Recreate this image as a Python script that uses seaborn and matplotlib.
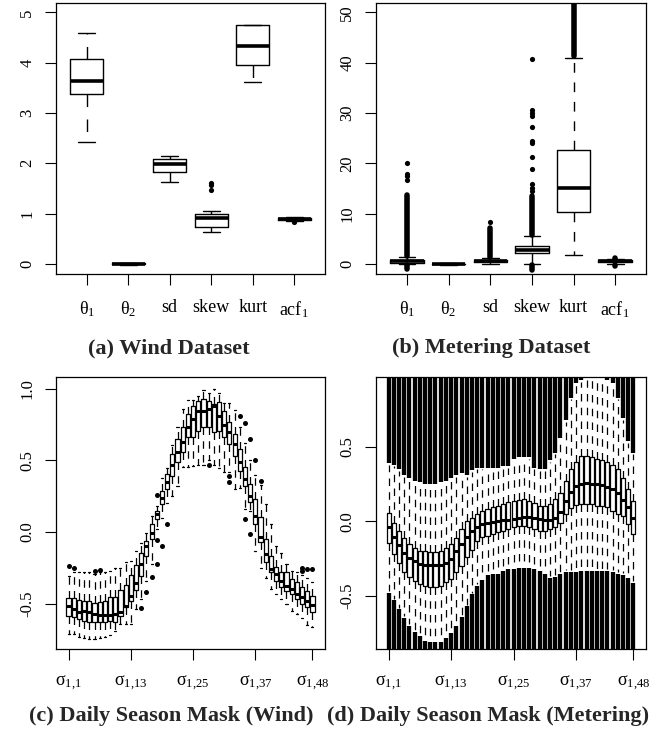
import matplotlib
matplotlib.use("Agg")
import matplotlib.pyplot as plt
import numpy as np
import pandas as pd
import seaborn as sns

# ---------------- data ----------------
feat_labels = ["θ$_1$", "θ$_2$", "sd", "skew", "kurt", "acf$_1$"]

# (a) Wind dataset: box statistics per feature
wind_q1  = [3.375, -0.010, 1.837, 0.736, 3.945, 0.880]
wind_med = [3.630,  0.000, 1.990, 0.908, 4.330, 0.900]
wind_q3  = [4.065,  0.010, 2.076, 1.000, 4.755, 0.915]
wind_lo  = [2.430, -0.020, 1.625, 0.630, 3.610, 0.860]
wind_hi  = [4.580,  0.020, 2.150, 1.048, 4.755, 0.925]
wind_fl_pos = [4, 4, 4, 6]
wind_fl_val = [1.46, 1.56, 1.60, 0.84]

# (b) Metering dataset
met_q1  = [0.20, -0.05, 0.35, 2.10, 10.4, 0.35]
met_med = [0.50,  0.00, 0.60, 2.80, 15.0, 0.55]
met_q3  = [0.85,  0.05, 0.85, 3.60, 22.6, 0.70]
met_lo  = [-0.05, -0.12, 0.00, 0.00, 1.7, 0.05]
met_hi  = [1.30,  0.12, 1.20, 5.60, 40.9, 0.95]
# dense runs of outliers (feature position, from, to)
met_run_pos  = [1, 1, 3, 4, 4, 5, 6, 6]
met_run_from = [1.5, -1.1, 1.3, 5.8, -1.3, 41.3, 1.0, -0.40]
met_run_to   = [13.7, -0.2, 7.1, 13.6, -0.2, 53.0, 1.1, -0.15]
met_fl_pos = [1, 1, 1, 1, 3, 4, 4, 4, 4, 4, 4, 4, 4, 4, 4, 4, 4]
met_fl_val = [16.6, 17.4, 17.9, 20.1, 8.3, 14.4, 15.0, 15.8, 18.8, 21.3,
              24.1, 24.4, 27.2, 29.5, 30.0, 30.5, 40.7]

# (c) Daily season mask, wind (48 half-hour slots)
sw_q1 = [-0.59, -0.595, -0.609, -0.619, -0.626, -0.63, -0.63, -0.626, -0.619, -0.63,
         -0.584, -0.526, -0.479, -0.405, -0.309, -0.165, -0.049, 0.091, 0.195, 0.30,
         0.393, 0.486, 0.556, 0.66, 0.66, 0.707, 0.73, 0.73, 0.695, 0.707,
         0.66, 0.614, 0.533, 0.428, 0.323, 0.207, 0.056, -0.072, -0.212, -0.281,
         -0.34, -0.386, -0.409, -0.433, -0.467, -0.502, -0.526, -0.56]
sw_med = [-0.52, -0.54, -0.56, -0.55, -0.556, -0.57, -0.577, -0.58, -0.577, -0.572,
          -0.56, -0.514, -0.444, -0.358, -0.223, -0.10, -0.01, 0.126, 0.235, 0.35,
          0.47, 0.556, 0.626, 0.73, 0.79, 0.846, 0.846, 0.858, 0.88, 0.81,
          0.75, 0.695, 0.614, 0.486, 0.37, 0.253, 0.114, -0.037, -0.153, -0.258,
          -0.293, -0.34, -0.374, -0.398, -0.43, -0.456, -0.484, -0.507]
sw_q3 = [-0.46, -0.463, -0.474, -0.479, -0.479, -0.495, -0.49, -0.479, -0.456, -0.456,
         -0.405, -0.367, -0.298, -0.228, -0.149, -0.06, 0.056, 0.149, 0.288, 0.405,
         0.544, 0.649, 0.73, 0.823, 0.881, 0.916, 0.928, 0.912, 0.893, 0.905,
         0.847, 0.765, 0.684, 0.579, 0.451, 0.335, 0.23, 0.102, -0.049, -0.165,
         -0.247, -0.281, -0.281, -0.328, -0.351, -0.386, -0.409, -0.444]
sw_lo = [-0.71, -0.71, -0.73, -0.74, -0.746, -0.75, -0.74, -0.73, -0.72, -0.69,
         -0.64, -0.64, -0.64, -0.54, -0.47, -0.34, -0.22, 0.02, 0.10, 0.20,
         0.25, 0.32, 0.456, 0.456, 0.46, 0.47, 0.47, 0.50, 0.47, 0.45,
         0.42, 0.42, 0.30, 0.31, 0.16, 0.15, -0.13, -0.25, -0.32, -0.40,
         -0.43, -0.47, -0.50, -0.55, -0.57, -0.60, -0.65, -0.665]
sw_hi = [-0.305, -0.28, -0.28, -0.28, -0.28, -0.29, -0.28, -0.28, -0.27, -0.25,
         -0.25, -0.21, -0.20, -0.13, -0.08, -0.01, 0.11, 0.18, 0.38, 0.45,
         0.61, 0.73, 0.86, 0.92, 0.92, 0.95, 0.99, 0.97, 1.00, 0.97,
         0.90, 0.90, 0.85, 0.73, 0.62, 0.50, 0.40, 0.33, 0.195, 0.056,
         -0.095, -0.15, -0.22, -0.27, -0.28, -0.30, -0.32, -0.35]
sw_fl_pos = [1, 2, 6, 7, 15, 16, 17, 18, 18, 18, 19, 20, 28, 32, 32,
             34, 35, 36, 37, 38, 35, 36, 46, 46, 47, 48]
sw_fl_val = [-0.237, -0.253, -0.274, -0.265, -0.53, -0.42, -0.316, 0.26, -0.056, -0.22,
             -0.095, 0.056, 0.467, 0.389, 0.352, 0.807, 0.759, 0.649, 0.505, 0.359,
             0.091, -0.014, -0.25, -0.275, -0.26, -0.26]

# (d) Daily season mask, metering
sm_q1 = [-0.146, -0.22, -0.28, -0.339, -0.377, -0.399, -0.422, -0.433, -0.44, -0.44,
         -0.433, -0.41, -0.388, -0.343, -0.298, -0.24, -0.19, -0.13, -0.108, -0.096,
         -0.085, -0.074, -0.063, -0.051, -0.04, -0.029, -0.029, -0.04, -0.051, -0.063,
         -0.063, -0.051, -0.04, -0.01, 0.05, 0.09, 0.11, 0.117, 0.117, 0.117,
         0.105, 0.105, 0.094, 0.072, 0.05, 0.038, -0.02, -0.085]
sm_med = [-0.04, -0.105, -0.16, -0.21, -0.245, -0.268, -0.284, -0.292, -0.297, -0.297,
          -0.293, -0.278, -0.252, -0.203, -0.15, -0.105, -0.065, -0.037, -0.02, -0.009,
          -0.002, 0.002, 0.006, 0.011, 0.017, 0.024, 0.03, 0.03, 0.024, 0.013,
          0.01, 0.01, 0.025, 0.065, 0.14, 0.20, 0.235, 0.253, 0.258, 0.252,
          0.248, 0.242, 0.234, 0.218, 0.19, 0.145, 0.095, 0.022]
sm_q3 = [0.054, -0.011, -0.063, -0.112, -0.152, -0.179, -0.197, -0.202, -0.209, -0.209,
         -0.197, -0.179, -0.152, -0.112, -0.052, 0.0, 0.02, 0.049, 0.072, 0.083,
         0.094, 0.105, 0.117, 0.128, 0.139, 0.143, 0.15, 0.139, 0.121, 0.105,
         0.105, 0.117, 0.15, 0.19, 0.27, 0.35, 0.40, 0.44, 0.44, 0.43,
         0.42, 0.41, 0.40, 0.38, 0.35, 0.29, 0.22, 0.14]
sm_lo = [-0.47, -0.52, -0.58, -0.64, -0.69, -0.73, -0.76, -0.79, -0.80, -0.80,
         -0.80, -0.77, -0.74, -0.69, -0.63, -0.56, -0.48, -0.42, -0.38, -0.35,
         -0.34, -0.34, -0.32, -0.31, -0.31, -0.30, -0.30, -0.30, -0.31, -0.32,
         -0.34, -0.37, -0.36, -0.34, -0.33, -0.33, -0.33, -0.32, -0.32, -0.32,
         -0.32, -0.32, -0.32, -0.33, -0.34, -0.35, -0.37, -0.40]
sm_hi = [0.38, 0.37, 0.34, 0.30, 0.28, 0.26, 0.25, 0.24, 0.24, 0.24,
         0.25, 0.26, 0.28, 0.30, 0.31, 0.30, 0.33, 0.35, 0.35, 0.35,
         0.35, 0.35, 0.36, 0.36, 0.41, 0.42, 0.42, 0.42, 0.35, 0.34,
         0.34, 0.40, 0.45, 0.55, 0.67, 0.82, 0.92, 0.94, 0.95, 0.95,
         0.95, 0.95, 0.94, 0.92, 0.82, 0.68, 0.53, 0.45]

season_ticks = [1, 13, 25, 37, 48]
season_labels = ["σ$_{1{,}1}$", "σ$_{1{,}13}$", "σ$_{1{,}25}$",
                 "σ$_{1{,}37}$", "σ$_{1{,}48}$"]

captions = ["(a) Wind Dataset", "(b) Metering Dataset",
            "(c) Daily Season Mask (Wind)", "(d) Daily Season Mask (Metering)"]

# ---------------- style ----------------
sns.set_theme(style="ticks")
plt.rcParams['font.family'] = ['Liberation Serif', 'DejaVu Serif']
plt.rcParams['mathtext.fontset'] = 'custom'
plt.rcParams['mathtext.rm'] = 'Liberation Serif'
plt.rcParams['mathtext.it'] = 'Liberation Serif:italic'
plt.rcParams['axes.edgecolor'] = 'black'
plt.rcParams['xtick.color'] = 'black'
plt.rcParams['ytick.color'] = 'black'

fig = plt.figure(figsize=(6.67, 7.40), dpi=100)
W, H = 667, 740


def add_ax(l, r, t, b):
    return fig.add_axes([l / W, 1 - b / H, (r - l) / W, (b - t) / H])


axA = add_ax(56, 325, 3.3, 274)
axB = add_ax(376, 646, 3.3, 274)
axC = add_ax(56, 325, 377.3, 649.3)
axD = add_ax(376, 646, 377.3, 649.3)


def draw_boxes(ax, q1, med, q3, lo, hi, lw_box, lw_med, dash, showcaps=True):
    stats = [dict(q1=a, med=m, q3=b, whislo=l, whishi=h, fliers=[])
             for a, m, b, l, h in zip(q1, med, q3, lo, hi)]
    ax.bxp(stats, positions=list(range(1, len(stats) + 1)), widths=0.8,
           capwidths=0.4, showfliers=False, showcaps=showcaps,
           boxprops=dict(color='black', linewidth=lw_box),
           medianprops=dict(color='black', linewidth=lw_med, solid_capstyle='butt'),
           whiskerprops=dict(color='black', linewidth=lw_box, linestyle=(0, dash)),
           capprops=dict(color='black', linewidth=lw_box),
           manage_ticks=False, zorder=3)


def draw_fliers(ax, pos, val, size):
    df = pd.DataFrame({"pos": pos, "val": val})
    sns.scatterplot(data=df, x="pos", y="val", ax=ax, color='black', s=size,
                    linewidth=0, legend=False, zorder=4)
    ax.set_xlabel("")
    ax.set_ylabel("")


def finish(ax, xlim, ylim, xticks, xlabels, yticks, ylabels):
    ax.set_xlim(xlim)
    ax.set_ylim(ylim)
    ax.set_xticks(xticks)
    ax.set_xticklabels(xlabels, fontsize=13)
    ax.set_yticks(yticks)
    ax.set_yticklabels(ylabels, fontsize=12, rotation=90, va='center')
    ax.tick_params(axis='x', length=8, width=0.8, pad=10)
    ax.tick_params(axis='y', length=8, width=0.8, pad=7)
    for s in ax.spines.values():
        s.set_visible(True)
        s.set_color('black')
        s.set_linewidth(0.9)


# (a)
draw_boxes(axA, wind_q1, wind_med, wind_q3, wind_lo, wind_hi, 1.0, 2.6, (9, 9))
draw_fliers(axA, wind_fl_pos, wind_fl_val, 14)
finish(axA, (0.26, 6.74), (-0.2, 5.18), range(1, 7), feat_labels,
       range(0, 6), [str(v) for v in range(0, 6)])

# (b)
axB.vlines(met_run_pos, met_run_from, met_run_to, color='black', linewidth=4.0,
           capstyle='round', zorder=2)
draw_boxes(axB, met_q1, met_med, met_q3, met_lo, met_hi, 1.0, 2.6, (7, 7))
draw_fliers(axB, met_fl_pos, met_fl_val, 14)
finish(axB, (0.26, 6.74), (-2.0, 51.8), range(1, 7), feat_labels,
       range(0, 51, 10), [str(v) for v in range(0, 51, 10)])

# (c)
draw_boxes(axC, sw_q1, sw_med, sw_q3, sw_lo, sw_hi, 0.9, 2.2, (6, 5))
draw_fliers(axC, sw_fl_pos, sw_fl_val, 13)
finish(axC, (-1.42, 50.42), (-0.819, 1.08), season_ticks, season_labels,
       [-0.5, 0.0, 0.5, 1.0], ["-0.5", "0.0", "0.5", "1.0"])

# (d)
ylimD = (-0.861, 0.969)
posD = list(range(1, 49))
axD.vlines(posD, [h + 0.012 for h in sm_hi], ylimD[1] + 0.1, color='black',
           linewidth=3.1, capstyle='butt', zorder=2)
axD.vlines(posD, ylimD[0] - 0.1, [l - 0.012 for l in sm_lo], color='black',
           linewidth=3.1, capstyle='butt', zorder=2)
draw_boxes(axD, sm_q1, sm_med, sm_q3, sm_lo, sm_hi, 0.9, 2.2, (6, 5), showcaps=False)
finish(axD, (-1.42, 50.42), ylimD, season_ticks, season_labels,
       [-0.5, 0.0, 0.5], ["-0.5", "0.0", "0.5"])

# captions
cap_xy = [(169, 348), (491, 348), (171, 716), (488, 716)]
for (cx, cy), txt in zip(cap_xy, captions):
    fig.text(cx / W, 1 - cy / H, txt, ha='center', va='center',
             fontsize=16, fontweight='bold')

fig.savefig("out.png", dpi=100)
